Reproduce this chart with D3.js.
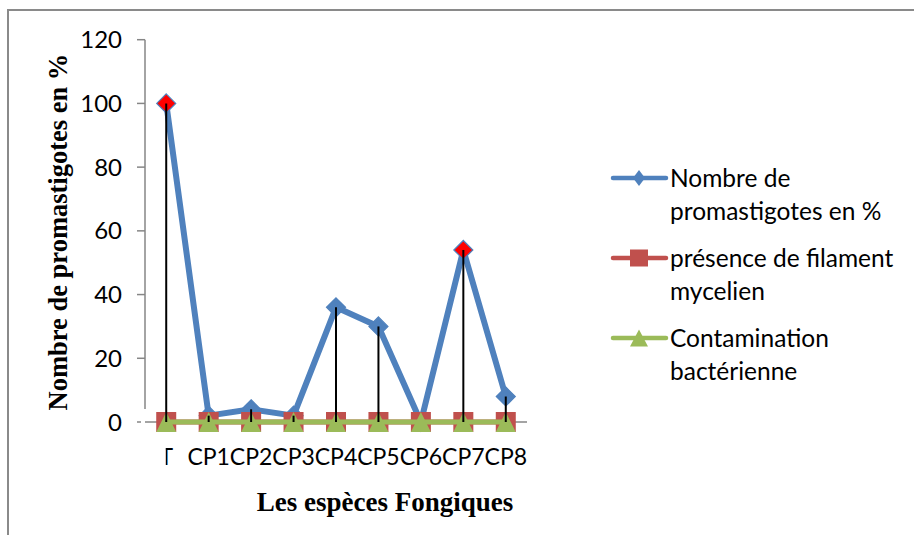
<!DOCTYPE html>
<html>
<head>
<meta charset="utf-8">
<script src="https://cdn.jsdelivr.net/npm/d3@7"></script>
<style>
  html, body { margin: 0; padding: 0; background: #fff; }
  svg { display: block; }
</style>
</head>
<body>
<svg id="chart" width="914" height="535"></svg>
<script>
// ---- Data ----
const categories = ["T", "CP1", "CP2", "CP3", "CP4", "CP5", "CP6", "CP7", "CP8"];
const promastigotes = [100, 2, 4, 2, 36, 30, 0, 54, 8];
const filament = [0, 0, 0, 0, 0, 0, 0, 0, 0];
const contamination = [0, 0, 0, 0, 0, 0, 0, 0, 0];
const highlighted = ["T", "CP7"];
const yTicks = [0, 20, 40, 60, 80, 100, 120];
const seriesNames = [
  ["Nombre de", "promastigotes en %"],
  ["présence de filament", "mycelien"],
  ["Contamination", "bactérienne"]
];
const yTitle = "Nombre de promastigotes en %";
const xTitle = "Les espèces Fongiques";

// ---- Styles ----
const BLUE = "#4F81BD", RED = "#C0504D", GREEN = "#9BBB59", AXIS = "#868686";
const LABEL_FONT = "Lato, 'Open Sans', sans-serif";
const TITLE_FONT = "'Liberation Serif', 'Times New Roman', serif";

const svg = d3.select("#chart");

// outer frame
svg.append("rect").attr("x", 8).attr("y", 10).attr("width", 912).attr("height", 540)
  .attr("fill", "none").attr("stroke", "#8a8a8a").attr("stroke-width", 2);

const x = d3.scalePoint().domain(categories).range([145, 527]).padding(0.5);
const y = d3.scaleLinear().domain([0, 120]).range([422, 39.7]);

// Y axis (line stops short of zero, as in the reference)
const yAxisG = svg.append("g").attr("transform", "translate(145,0)");
yAxisG.append("line").attr("x1", 0).attr("x2", 0).attr("y1", y(120)).attr("y2", 409)
  .attr("stroke", AXIS).attr("stroke-width", 1.5);
yAxisG.selectAll("line.tick").data(yTicks).join("line").attr("class", "tick")
  .attr("x1", -8).attr("x2", d => d === 0 ? -4 : 0)
  .attr("y1", d => y(d)).attr("y2", d => y(d))
  .attr("stroke", AXIS).attr("stroke-width", 1.5);
yAxisG.selectAll("text").data(yTicks).join("text")
  .attr("x", -23).attr("y", d => y(d)).attr("dy", "0.36em")
  .attr("text-anchor", "end")
  .style("font-family", LABEL_FONT).style("font-size", "24px").attr("fill", "#000")
  .text(d => d);

// X axis line
svg.append("line").attr("x1", 145).attr("x2", 527).attr("y1", y(0)).attr("y2", y(0))
  .attr("stroke", AXIS).attr("stroke-width", 1.5);

// clip for the first (partly hidden) category label
svg.append("clipPath").attr("id", "clipFirst").append("rect")
  .attr("x", x(categories[0]) - 0.5).attr("y", 430).attr("width", 30).attr("height", 50);

svg.append("g").selectAll("text").data(categories).join("text")
  .attr("x", d => x(d)).attr("y", 465)
  .attr("text-anchor", "middle")
  .attr("clip-path", (d, i) => i === 0 ? "url(#clipFirst)" : null)
  .style("font-family", LABEL_FONT).style("font-size", "23px").attr("fill", "#000")
  .text(d => d);

// Titles
svg.append("text").attr("transform", `translate(67,232) rotate(-90)`)
  .attr("text-anchor", "middle")
  .style("font-family", TITLE_FONT).style("font-size", "26.5px").style("font-weight", "bold")
  .text(yTitle);
svg.append("text").attr("x", 385).attr("y", 511)
  .attr("text-anchor", "middle")
  .style("font-family", TITLE_FONT).style("font-size", "27px").style("font-weight", "bold")
  .text(xTitle);

// ---- Series ----
const line = d3.line().x((d, i) => x(categories[i])).y(d => y(d));

const diamond = r => `M0,${-r}L${r},0L0,${r}L${-r},0Z`;
const triangle = (w, h) => `M0,${-h / 2}L${w / 2},${h / 2}L${-w / 2},${h / 2}Z`;

// blue series
svg.append("path").datum(promastigotes).attr("d", line)
  .attr("fill", "none").attr("stroke", BLUE).attr("stroke-width", 6).attr("stroke-linejoin", "round");
svg.append("g").selectAll("path").data(promastigotes).join("path")
  .attr("transform", (d, i) => `translate(${x(categories[i])},${y(d)})`)
  .attr("d", diamond(9.5))
  .attr("fill", (d, i) => highlighted.includes(categories[i]) ? "#FF0000" : BLUE)
  .attr("stroke", BLUE).attr("stroke-width", 1.2);

// red series
svg.append("path").datum(filament).attr("d", line)
  .attr("fill", "none").attr("stroke", RED).attr("stroke-width", 5);
svg.append("g").selectAll("rect").data(filament).join("rect")
  .attr("x", (d, i) => x(categories[i]) - 10).attr("y", d => y(d) - 10)
  .attr("width", 20).attr("height", 20).attr("fill", RED);

// green series
svg.append("path").datum(contamination).attr("d", line)
  .attr("fill", "none").attr("stroke", GREEN).attr("stroke-width", 5);
svg.append("g").selectAll("path").data(contamination).join("path")
  .attr("transform", (d, i) => `translate(${x(categories[i])},${y(d)})`)
  .attr("d", triangle(20, 20)).attr("fill", GREEN);

// drop lines
svg.append("g").selectAll("line").data(promastigotes).join("line")
  .attr("x1", (d, i) => x(categories[i])).attr("x2", (d, i) => x(categories[i]))
  .attr("y1", d => y(d)).attr("y2", y(0))
  .attr("stroke", "#000").attr("stroke-width", 2);

// ---- Legend ----
const legend = svg.append("g");
const legendY = [178, 258, 338];
const legendColors = [BLUE, RED, GREEN];
legendY.forEach((ly, i) => {
  const g = legend.append("g");
  g.append("line").attr("x1", 613).attr("x2", 666).attr("y1", ly).attr("y2", ly)
    .attr("stroke", legendColors[i]).attr("stroke-width", 4.5).attr("stroke-linecap", "round");
  if (i === 0) g.append("path").attr("transform", `translate(639,${ly})`).attr("d", "M0,-8L6,0L0,8L-6,0Z").attr("fill", BLUE);
  if (i === 1) g.append("rect").attr("x", 630).attr("y", ly - 8.5).attr("width", 18).attr("height", 17).attr("fill", RED);
  if (i === 2) g.append("path").attr("transform", `translate(639,${ly})`).attr("d", triangle(18, 17)).attr("fill", GREEN);
  seriesNames[i].forEach((t, j) => {
    g.append("text").attr("x", 670).attr("y", ly + j * 33).attr("dy", "0.36em")
      .style("font-family", LABEL_FONT).style("font-size", "24.5px").attr("fill", "#000")
      .text(t);
  });
});
</script>
</body>
</html>
